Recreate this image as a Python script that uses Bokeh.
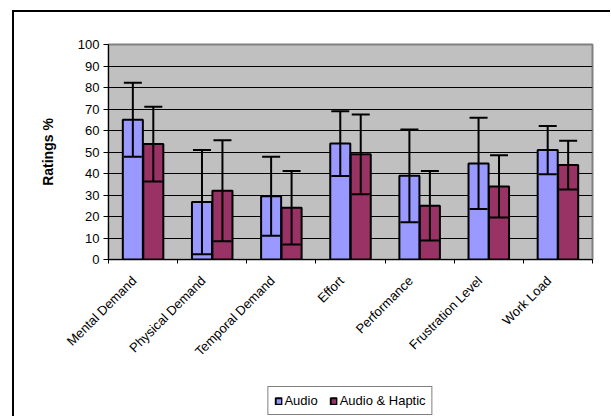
from bokeh.plotting import figure
from bokeh.models import (ColumnDataSource, Range1d, FixedTicker, Whisker, TeeHead,
                          Legend, LegendItem)
from bokeh.layouts import column
from bokeh.embed import file_html
from bokeh.resources import INLINE
import math

categories = ["Mental Demand", "Physical Demand", "Temporal Demand", "Effort",
              "Performance", "Frustration Level", "Work Load"]
audio_mean = [65, 26.7, 29.4, 53.9, 38.9, 44.7, 50.9]
audio_sd = [17.2, 24.2, 18.4, 15.1, 21.6, 21.2, 11.2]
haptic_mean = [53.7, 32, 24.1, 48.9, 25, 34, 43.9]
haptic_sd = [17.4, 23.5, 17.1, 18.5, 16.2, 14.5, 11.3]
y_ticks = [0, 10, 20, 30, 40, 50, 60, 70, 80, 90, 100]
series_names = ["Audio", "Audio & Haptic"]

FONT = "Liberation Sans"
AUDIO = "#9999FF"
HAPTIC = "#993366"

n = len(categories)
centers = [i + 0.5 for i in range(n)]
label_pos = [c - 0.13 for c in centers]   # Excel-like anchoring of slanted labels
off = 0.148
bw = 0.29
W = 596

src_a = ColumnDataSource(dict(
    x=[c - off for c in centers], top=audio_mean,
    upper=[m + s for m, s in zip(audio_mean, audio_sd)],
    lower=[m - s for m, s in zip(audio_mean, audio_sd)]))
src_h = ColumnDataSource(dict(
    x=[c + off for c in centers], top=haptic_mean,
    upper=[m + s for m, s in zip(haptic_mean, haptic_sd)],
    lower=[m - s for m, s in zip(haptic_mean, haptic_sd)]))

p = figure(width=W, height=364, output_backend="svg", toolbar_location=None,
           x_range=Range1d(0, n), y_range=Range1d(0, 100),
           min_border_left=94, min_border_top=32, min_border_right=18,
           min_border_bottom=117)

p.background_fill_color = "#C0C0C0"
p.border_fill_color = "white"
p.outline_line_color = "#808080"
p.outline_line_width = 2

p.xgrid.visible = False
p.ygrid.ticker = FixedTicker(ticks=y_ticks)
p.ygrid.grid_line_color = "#000000"
p.ygrid.grid_line_width = 1

# y axis
p.yaxis.ticker = FixedTicker(ticks=y_ticks)
p.yaxis.axis_line_color = "#000000"
p.yaxis.axis_line_width = 1
p.yaxis.major_tick_in = 0
p.yaxis.major_tick_out = 5
p.yaxis.minor_tick_line_color = None
p.yaxis.major_label_text_font = FONT
p.yaxis.major_label_text_font_size = "13px"
p.yaxis.major_label_text_color = "#000000"
p.yaxis.major_label_standoff = 4
p.yaxis.axis_label = "Ratings %"
p.yaxis.axis_label_text_font = FONT
p.yaxis.axis_label_text_font_size = "14px"
p.yaxis.axis_label_text_font_style = "bold"
p.yaxis.axis_label_text_color = "#000000"
p.yaxis.axis_label_standoff = 19

# x axis
p.xaxis.ticker = FixedTicker(ticks=label_pos, minor_ticks=list(range(n + 1)))
p.xaxis.major_label_overrides = {c: lab for c, lab in zip(label_pos, categories)}
p.xaxis.major_tick_line_color = None
p.xaxis.minor_tick_line_color = "#000000"
p.xaxis.minor_tick_in = 0
p.xaxis.minor_tick_out = 4
p.xaxis.axis_line_color = "#000000"
p.xaxis.major_label_orientation = math.pi / 4
p.xaxis.major_label_text_font = FONT
p.xaxis.major_label_text_font_size = "13px"
p.xaxis.major_label_text_color = "#000000"
p.xaxis.major_label_standoff = 13

p.vbar(x="x", top="top", bottom=0, width=bw, source=src_a,
       fill_color=AUDIO, line_color="#000000", line_width=2)
p.vbar(x="x", top="top", bottom=0, width=bw, source=src_h,
       fill_color=HAPTIC, line_color="#000000", line_width=2)

for s in (src_a, src_h):
    w = Whisker(base="x", upper="upper", lower="lower", source=s,
                line_color="#000000", line_width=2, level="overlay",
                upper_head=TeeHead(size=18, line_color="#000000", line_width=2),
                lower_head=TeeHead(size=18, line_color="#000000", line_width=2))
    p.add_layout(w)

# legend strip below the chart (its y range lies far above the data, so no marks show)
lg = figure(width=W, height=40, output_backend="svg", toolbar_location=None,
            x_range=Range1d(0, n), y_range=Range1d(1000, 1001),
            min_border_left=94, min_border_right=18,
            min_border_top=0, min_border_bottom=0)
lg.axis.visible = False
lg.grid.visible = False
lg.outline_line_color = None
lg.background_fill_color = "white"
lg.border_fill_color = "white"
la = lg.rect(x="x", y="top", width=bw, height=1, source=src_a,
             fill_color=AUDIO, line_color="#000000", line_width=2)
lh = lg.rect(x="x", y="top", width=bw, height=1, source=src_h,
             fill_color=HAPTIC, line_color="#000000", line_width=2)

legend = Legend(items=[LegendItem(label=series_names[0], renderers=[la]),
                       LegendItem(label=series_names[1], renderers=[lh])],
                orientation="horizontal", location="top_center")
legend.label_text_font = FONT
legend.label_text_font_size = "13px"
legend.label_text_color = "#000000"
legend.label_height = 14
legend.glyph_width = 8
legend.glyph_height = 8
legend.label_standoff = 2
legend.spacing = 12
legend.padding = 6
legend.margin = 10
legend.border_line_color = "#000000"
legend.border_line_width = 1
legend.background_fill_color = "white"
legend.background_fill_alpha = 1
lg.add_layout(legend, "center")

layout = column(p, lg, spacing=0,
                styles={"border-left": "2px solid #000000",
                        "border-top": "2px solid #000000",
                        "border-right": "none", "border-bottom": "none",
                        "margin-left": "12px", "margin-top": "10px"})

open("out.html", "w").write(file_html(layout, INLINE))
